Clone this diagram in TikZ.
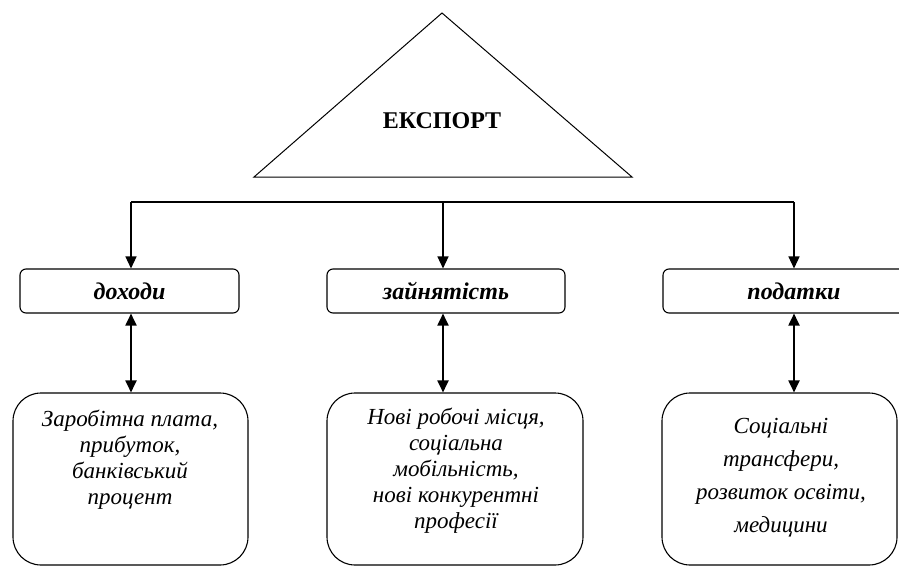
\documentclass[tikz,border=0pt]{standalone}
\usepackage{fontspec}
\setmainfont{Liberation Serif}
\usetikzlibrary{arrows.meta}

\tikzset{
  topbox/.style={draw, line width=1.1pt, rounded corners=6pt, minimum height=44pt,
    font=\fontsize{24}{28}\selectfont\bfseries\itshape},
  lowbox/.style={draw, line width=1.1pt, rounded corners=28pt, minimum height=172pt},
  lowtext/.style={align=center, font=\fontsize{23}{26}\selectfont\itshape},
  arr/.style={-{Triangle[length=12pt,width=11pt]}, line width=1.4pt},
  darr/.style={{Triangle[length=12pt,width=11pt]}-{Triangle[length=12pt,width=11pt]}, line width=1.9pt}
}

\begin{document}
\begin{tikzpicture}[x=1pt, y=-1pt]
	\fill[white] (0,0) rectangle (899,568);
	\clip (0,0) rectangle (899,568);

	% triangle
	\coordinate (tl) at (254,177);
	\coordinate (tt) at (442,13);
	\coordinate (tr) at (632,177);
	\draw[line width=1pt] (tl) -- (tt) -- (tr) -- cycle;
	\node[font=\fontsize{24}{28}\selectfont\bfseries] (eksport) at (442,121) {ЕКСПОРТ};

	% upper boxes
	\node[topbox, minimum width=219pt] (dokhody) at (129.5,291) {доходи};
	\node[topbox, minimum width=238pt] (zaynyatist) at (446,291) {зайнятість};
	\node[topbox, minimum width=262pt] (podatky) at (794,291) {податки};

	% lower boxes
	\node[lowbox, minimum width=235pt] (zarplata) at (130.5,479) {};
	\node[lowbox, minimum width=256pt] (robota) at (455,479) {};
	\node[lowbox, minimum width=235pt] (transfery) at (779.5,479) {};

	\node[lowtext] (zarplata-t) at (130,460) {Заробітна плата,\\прибуток,\\банківський\\процент};
	\node[lowtext] (robota-t) at (456,471) {Нові робочі місця,\\соціальна\\мобільність,\\нові конкурентні\\професії};
	\node[lowtext, font=\fontsize{23}{33}\selectfont\itshape] (transfery-t) at (781,478) {Соціальні\\трансфери,\\розвиток освіти,\\медицини};

	% bus
	\coordinate (busL) at (131,202);
	\coordinate (busM) at (443,202);
	\coordinate (busR) at (794,202);
	\draw[line width=1.4pt] (busL) -- (busR);
	\draw[arr] (busL) -- (busL |- dokhody.north);
	\draw[arr] (busM) -- (busM |- zaynyatist.north);
	\draw[arr] (busR) -- (podatky.north);

	\draw[darr] (busL |- dokhody.south) -- (busL |- zarplata.north);
	\draw[darr] (busM |- zaynyatist.south) -- (busM |- robota.north);
	\draw[darr] (podatky.south) -- (podatky.south |- transfery.north);
\end{tikzpicture}
\end{document}
